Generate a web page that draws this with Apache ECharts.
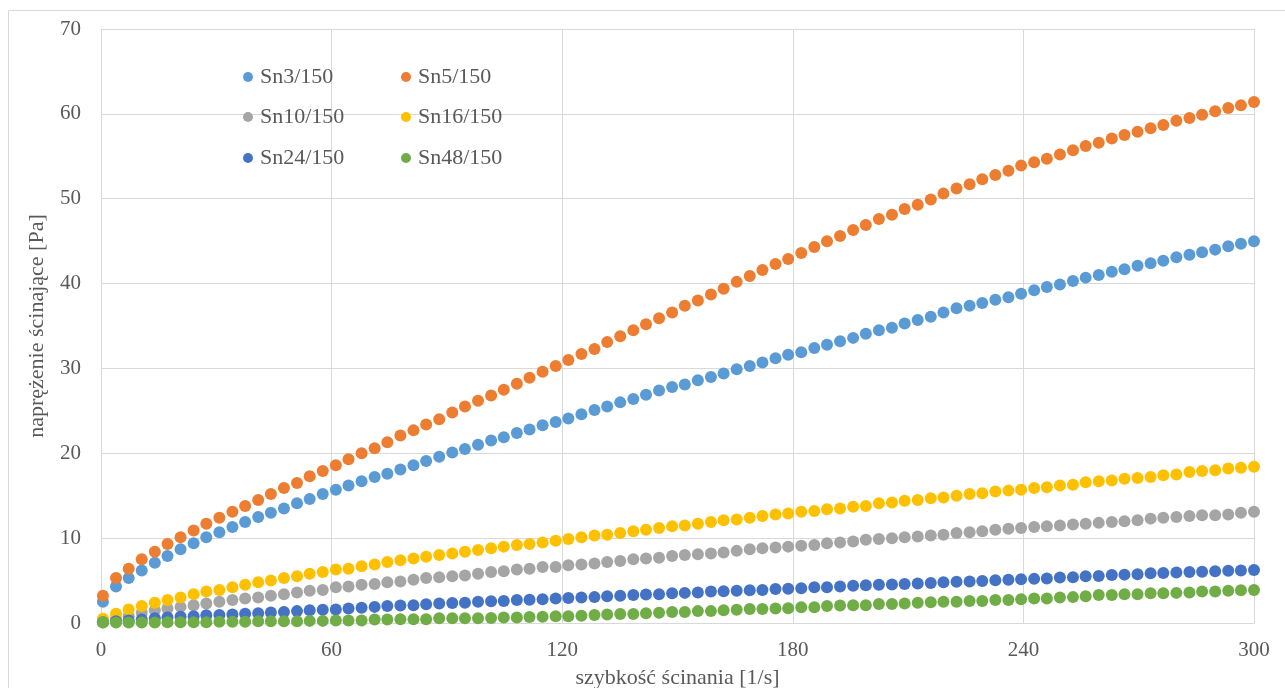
<!DOCTYPE html>
<html>
<head>
<meta charset="utf-8">
<style>
  html, body { margin: 0; padding: 0; background: #ffffff; }
  #chart { width: 1285px; height: 688px; }
</style>
<script src="https://cdn.jsdelivr.net/npm/echarts@6/dist/echarts.min.js"></script>
</head>
<body>
<div id="chart"></div>
<script>
// Shear rate [1/s]
const shearRate = [
  0.5, 3.9, 7.2, 10.6, 14.0, 17.3, 20.7, 24.1, 27.4, 30.8,
  34.2, 37.5, 40.9, 44.2, 47.6, 51.0, 54.3, 57.7, 61.1, 64.4,
  67.8, 71.2, 74.5, 77.9, 81.3, 84.6, 88.0, 91.4, 94.7, 98.1,
  101.5, 104.8, 108.2, 111.5, 114.9, 118.3, 121.6, 125.0, 128.4, 131.7,
  135.1, 138.5, 141.8, 145.2, 148.6, 151.9, 155.3, 158.7, 162.0, 165.4,
  168.8, 172.1, 175.5, 178.8, 182.2, 185.6, 188.9, 192.3, 195.7, 199.0,
  202.4, 205.8, 209.1, 212.5, 215.9, 219.2, 222.6, 226.0, 229.3, 232.7,
  236.1, 239.4, 242.8, 246.1, 249.5, 252.9, 256.2, 259.6, 263.0, 266.3,
  269.7, 273.1, 276.4, 279.8, 283.2, 286.5, 289.9, 293.3, 296.6, 300.0
];

// Shear stress [Pa] per sample
const sn3 = [
  2.5, 4.3, 5.3, 6.2, 7.1, 7.9, 8.7, 9.4, 10.1, 10.7,
  11.3, 11.9, 12.5, 13.0, 13.5, 14.1, 14.6, 15.2, 15.7, 16.2,
  16.7, 17.2, 17.6, 18.1, 18.6, 19.1, 19.6, 20.1, 20.5, 21.0,
  21.5, 21.9, 22.4, 22.8, 23.3, 23.7, 24.1, 24.6, 25.1, 25.5,
  26.0, 26.4, 26.9, 27.4, 27.8, 28.1, 28.6, 29.0, 29.4, 29.9,
  30.3, 30.7, 31.2, 31.6, 31.9, 32.4, 32.8, 33.2, 33.6, 34.1,
  34.5, 34.8, 35.3, 35.7, 36.1, 36.6, 37.1, 37.4, 37.7, 38.1,
  38.4, 38.8, 39.2, 39.6, 39.9, 40.3, 40.7, 41.0, 41.4, 41.7,
  42.1, 42.4, 42.7, 43.1, 43.4, 43.7, 44.0, 44.4, 44.7, 45.0
];
const sn5 = [
  3.2, 5.3, 6.4, 7.5, 8.4, 9.3, 10.1, 10.9, 11.7, 12.4,
  13.1, 13.8, 14.5, 15.2, 15.9, 16.5, 17.3, 17.9, 18.6, 19.3,
  20.0, 20.6, 21.3, 22.1, 22.7, 23.4, 24.0, 24.8, 25.5, 26.2,
  26.8, 27.5, 28.2, 28.9, 29.6, 30.3, 31.0, 31.7, 32.3, 33.1,
  33.8, 34.5, 35.2, 35.9, 36.6, 37.4, 38.0, 38.7, 39.4, 40.2,
  40.9, 41.6, 42.3, 42.9, 43.6, 44.3, 45.0, 45.6, 46.3, 46.9,
  47.6, 48.1, 48.8, 49.3, 49.9, 50.6, 51.2, 51.7, 52.3, 52.8,
  53.3, 53.9, 54.3, 54.7, 55.2, 55.7, 56.2, 56.6, 57.1, 57.5,
  57.9, 58.3, 58.7, 59.2, 59.5, 59.9, 60.3, 60.7, 61.0, 61.4
];
const sn10 = [
  0.2, 0.5, 0.8, 1.2, 1.5, 1.7, 1.9, 2.1, 2.3, 2.5,
  2.7, 2.9, 3.0, 3.2, 3.4, 3.6, 3.8, 3.9, 4.2, 4.3,
  4.5, 4.6, 4.8, 4.9, 5.1, 5.3, 5.4, 5.5, 5.6, 5.8,
  6.0, 6.1, 6.3, 6.4, 6.6, 6.6, 6.8, 6.9, 7.0, 7.2,
  7.3, 7.5, 7.6, 7.7, 7.9, 8.0, 8.1, 8.2, 8.3, 8.5,
  8.7, 8.8, 8.9, 9.0, 9.1, 9.2, 9.4, 9.5, 9.6, 9.8,
  9.9, 10.0, 10.1, 10.2, 10.3, 10.4, 10.6, 10.7, 10.8, 11.0,
  11.1, 11.2, 11.3, 11.4, 11.5, 11.6, 11.7, 11.8, 11.9, 12.0,
  12.1, 12.3, 12.4, 12.5, 12.6, 12.7, 12.7, 12.8, 13.0, 13.1
];
const sn16 = [
  0.5, 1.1, 1.6, 2.0, 2.4, 2.7, 3.0, 3.4, 3.7, 3.9,
  4.2, 4.5, 4.8, 5.0, 5.3, 5.5, 5.8, 6.0, 6.3, 6.4,
  6.7, 6.9, 7.2, 7.4, 7.6, 7.8, 8.0, 8.2, 8.4, 8.6,
  8.8, 9.0, 9.2, 9.3, 9.5, 9.7, 9.9, 10.1, 10.3, 10.4,
  10.6, 10.8, 11.0, 11.2, 11.4, 11.5, 11.7, 11.9, 12.1, 12.2,
  12.4, 12.6, 12.8, 12.9, 13.1, 13.2, 13.4, 13.5, 13.7, 13.8,
  14.1, 14.2, 14.4, 14.5, 14.7, 14.8, 15.0, 15.2, 15.3, 15.5,
  15.6, 15.7, 15.9, 16.0, 16.2, 16.3, 16.6, 16.7, 16.8, 17.0,
  17.1, 17.2, 17.4, 17.5, 17.8, 17.9, 18.0, 18.2, 18.3, 18.4
];
const sn24 = [
  0.1, 0.2, 0.3, 0.4, 0.55, 0.65, 0.75, 0.8, 0.9, 0.95,
  1.0, 1.1, 1.15, 1.25, 1.3, 1.4, 1.5, 1.55, 1.6, 1.7,
  1.8, 1.9, 2.0, 2.05, 2.1, 2.2, 2.3, 2.35, 2.4, 2.5,
  2.55, 2.6, 2.7, 2.75, 2.8, 2.9, 2.95, 3.0, 3.05, 3.15,
  3.2, 3.3, 3.35, 3.4, 3.5, 3.55, 3.6, 3.7, 3.75, 3.8,
  3.85, 3.9, 4.0, 4.05, 4.1, 4.2, 4.2, 4.3, 4.4, 4.45,
  4.5, 4.55, 4.6, 4.65, 4.7, 4.8, 4.85, 4.9, 4.95, 5.05,
  5.1, 5.15, 5.2, 5.25, 5.35, 5.4, 5.5, 5.55, 5.65, 5.7,
  5.75, 5.85, 5.9, 5.95, 6.0, 6.05, 6.1, 6.15, 6.2, 6.25
];
const sn48 = [
  0.05, 0.05, 0.05, 0.05, 0.05, 0.1, 0.1, 0.1, 0.1, 0.15,
  0.15, 0.15, 0.2, 0.2, 0.2, 0.2, 0.25, 0.25, 0.3, 0.3,
  0.3, 0.4, 0.4, 0.45, 0.45, 0.45, 0.55, 0.55, 0.55, 0.55,
  0.6, 0.65, 0.65, 0.7, 0.75, 0.8, 0.8, 0.85, 0.95, 1.0,
  1.05, 1.05, 1.15, 1.2, 1.3, 1.3, 1.4, 1.4, 1.5, 1.55,
  1.65, 1.65, 1.7, 1.75, 1.85, 1.85, 2.0, 2.05, 2.1, 2.1,
  2.25, 2.25, 2.3, 2.4, 2.45, 2.5, 2.5, 2.6, 2.6, 2.7,
  2.7, 2.8, 2.9, 2.9, 3.0, 3.05, 3.15, 3.3, 3.3, 3.4,
  3.4, 3.5, 3.5, 3.55, 3.6, 3.7, 3.7, 3.8, 3.85, 3.9
];

const seriesNames = ['Sn3/150', 'Sn5/150', 'Sn10/150', 'Sn16/150', 'Sn24/150', 'Sn48/150'];
const seriesValues = [sn3, sn5, sn10, sn16, sn24, sn48];
const seriesColors = ['#5B9BD5', '#ED7D31', '#A5A5A5', '#FFC000', '#4472C4', '#70AD47'];

const xTicks = [0, 60, 120, 180, 240, 300];
const yTicks = [0, 10, 20, 30, 40, 50, 60, 70];

const xTitle = 'szybkość ścinania [1/s]';
const yTitle = 'naprężenie ścinające [Pa]';

const FONT = '"Liberation Serif", "DejaVu Serif", serif';
const TEXT = '#595959';
const GRID = '#d9d9d9';

// legend: two columns, three rows
const legendCols = [243, 401];
const legendRows = [66, 106, 147];
const legends = seriesNames.map((name, i) => ({
  data: [name],
  left: legendCols[i % 2],
  top: legendRows[Math.floor(i / 2)],
  icon: 'circle',
  itemWidth: 10,
  itemHeight: 10,
  itemGap: 0,
  selectedMode: false,
  padding: 0,
  textStyle: { fontFamily: FONT, fontSize: 22, color: TEXT, padding: [0, 0, 0, 2] }
}));

const chart = echarts.init(document.getElementById('chart'), null, { renderer: 'canvas' });
chart.setOption({
  animation: false,
  backgroundColor: '#ffffff',
  graphic: [{
    type: 'rect',
    shape: { x: 8.5, y: 10.5, width: 1300, height: 700 },
    style: { fill: 'none', stroke: GRID, lineWidth: 1 },
    z: -10, silent: true
  }],
  legend: legends,
  grid: { left: 101, right: 31, top: 29, bottom: 65, containLabel: false, outerBoundsMode: 'none' },
  xAxis: {
    type: 'value',
    min: xTicks[0], max: xTicks[xTicks.length - 1], interval: 60,
    name: xTitle, nameLocation: 'middle', nameGap: 44,
    nameTextStyle: { fontFamily: FONT, fontSize: 22, color: TEXT },
    axisLine: { show: true, lineStyle: { color: GRID, width: 1 } },
    axisTick: { show: false },
    axisLabel: { fontFamily: FONT, fontSize: 21, color: TEXT, margin: 17 },
    splitLine: { show: true, lineStyle: { color: GRID, width: 1 } }
  },
  yAxis: {
    type: 'value',
    min: yTicks[0], max: yTicks[yTicks.length - 1], interval: 10,
    name: yTitle, nameLocation: 'middle', nameGap: 53, nameRotate: 90,
    nameTextStyle: { fontFamily: FONT, fontSize: 22, color: TEXT },
    axisLine: { show: true, lineStyle: { color: GRID, width: 1 } },
    axisTick: { show: false },
    axisLabel: { fontFamily: FONT, fontSize: 21, color: TEXT, margin: 20 },
    splitLine: { show: true, lineStyle: { color: GRID, width: 1 } }
  },
  series: seriesNames.map((name, i) => ({
    name: name,
    type: 'scatter',
    symbol: 'circle',
    symbolSize: 12,
    itemStyle: { color: seriesColors[i], opacity: 1 },
    data: shearRate.map((x, k) => [x, seriesValues[i][k]]),
    z: 2 + i
  }))
});
</script>
</body>
</html>
